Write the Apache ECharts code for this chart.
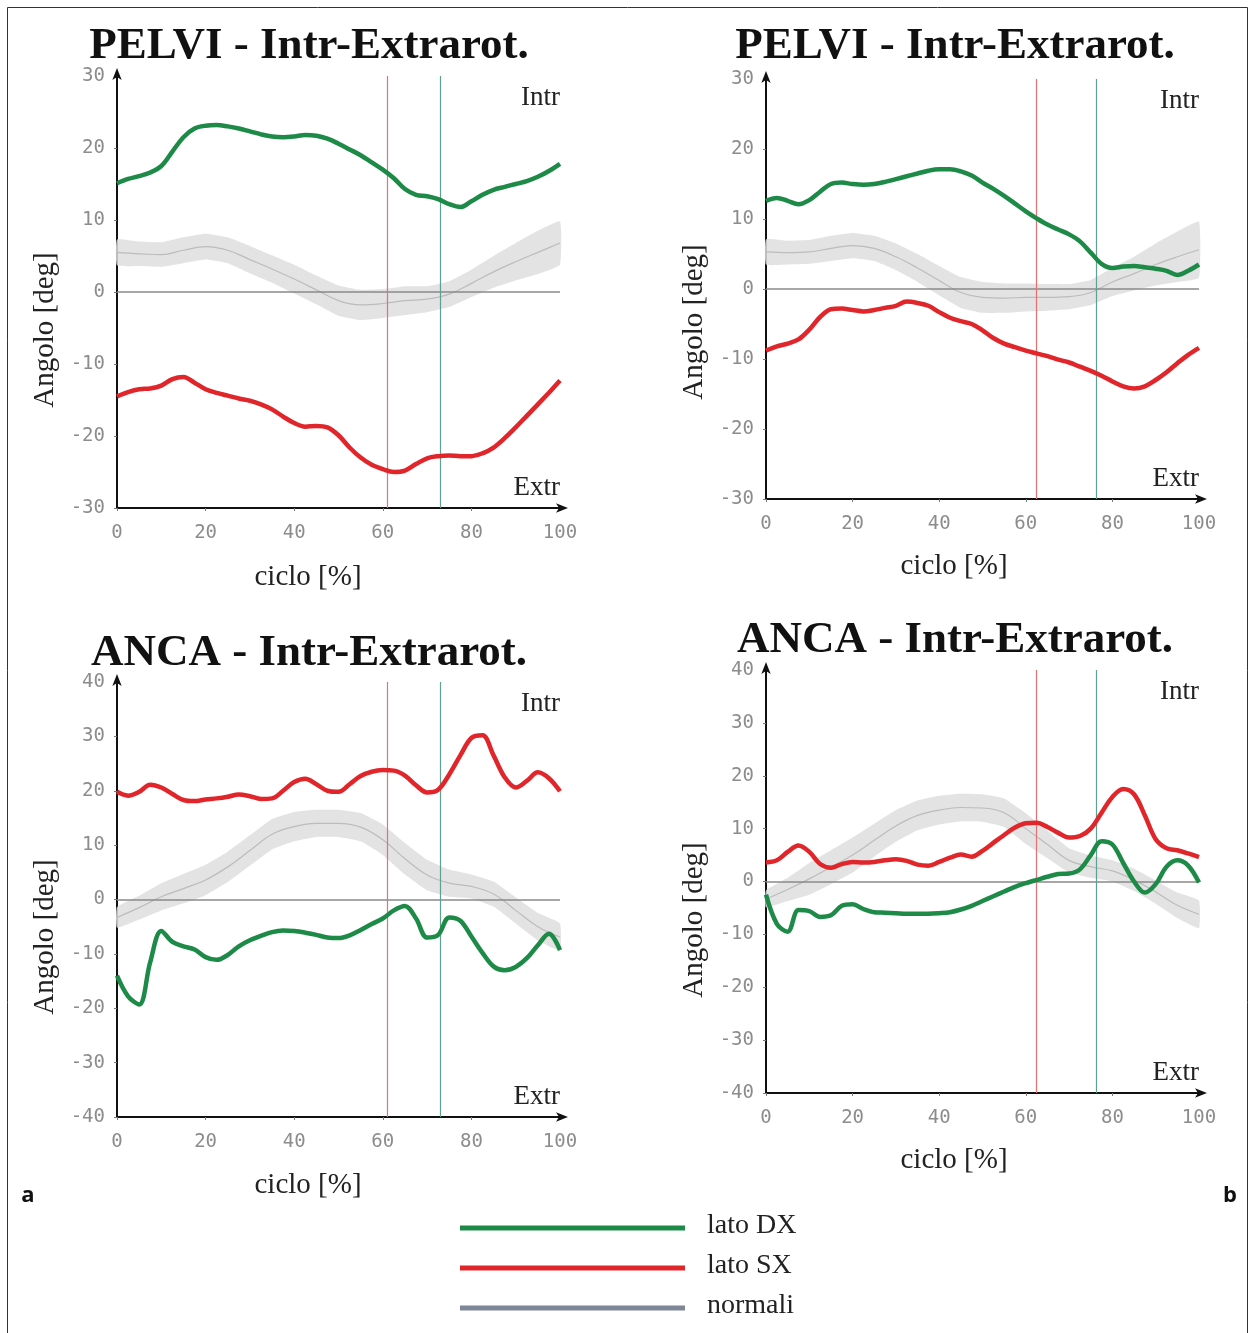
<!DOCTYPE html>
<html lang="it">
<head>
	<meta charset="UTF-8">
	<title>Intr-Extrarot.</title>
	<script src="https://cdn.jsdelivr.net/npm/echarts@6/dist/echarts.min.js"></script>
	<style>
		html, body { margin: 0; padding: 0; background: #fff; }
		#main { width: 1250px; height: 1333px; }
	</style>
</head>
<body>
<div id="main"></div>
<script>
	// ascisse: ciclo del passo in %
	var cicloX = [0,2.5,5,7.5,10,12.5,15,17.5,20,22.5,25,27.5,30,32.5,35,37.5,40,42.5,45,47.5,50,
		52.5,55,57.5,60,62.5,65,67.5,70,72.5,75,77.5,80,82.5,85,87.5,90,92.5,95,97.5,100];
	var normX = [0,5,10,15,20,25,30,35,40,45,50,55,60,65,70,75,80,85,90,95,100];

	// PELVI (a)
	var pelviA_dx = [15.1,15.7,16.1,16.6,17.5,19.5,21.5,22.7,23.1,23.2,23.0,22.7,22.3,21.9,21.6,21.5,21.6,21.8,21.7,21.3,20.6,
		19.8,19.0,18.0,17.0,15.8,14.3,13.5,13.3,12.9,12.2,11.8,12.6,13.5,14.2,14.6,15.0,15.4,16.0,16.8,17.8];
	var pelviA_sx = [-14.5,-13.9,-13.5,-13.4,-13.0,-12.1,-11.8,-12.6,-13.5,-14.0,-14.4,-14.8,-15.1,-15.6,-16.3,-17.3,-18.2,-18.7,-18.6,-18.8,-19.9,
		-21.6,-23.0,-24.0,-24.6,-25.0,-24.8,-23.9,-23.1,-22.8,-22.7,-22.8,-22.8,-22.4,-21.6,-20.3,-18.8,-17.2,-15.6,-14.0,-12.3];
	var pelviA_norm = [5.5,5.3,5.2,5.8,6.3,5.8,4.5,3.2,1.8,0.3,-1.2,-1.8,-1.6,-1.2,-1.0,-0.3,1.2,2.8,4.2,5.5,6.8];
	var pelviA_sd = [1.8,1.7,1.7,1.8,1.8,1.8,1.9,1.9,2.0,2.0,2.1,2.1,2.0,2.0,1.8,1.8,1.9,2.2,2.6,3.0,3.0];

	// PELVI (b)
	var pelviB_dx = [12.6,13.0,12.6,12.1,12.7,13.9,15.0,15.2,15.0,14.9,15.0,15.3,15.7,16.1,16.5,16.9,17.1,17.1,16.8,16.2,15.2,
		14.3,13.3,12.2,11.1,10.1,9.2,8.5,7.8,6.8,5.2,3.6,3.0,3.2,3.3,3.1,2.9,2.6,2.0,2.6,3.5];
	var pelviB_sx = [-8.8,-8.2,-7.8,-7.2,-5.8,-4.0,-2.9,-2.8,-3.0,-3.2,-3.0,-2.7,-2.4,-1.8,-2.0,-2.4,-3.3,-4.1,-4.6,-5.0,-5.9,
		-7.0,-7.8,-8.3,-8.8,-9.2,-9.6,-10.1,-10.5,-11.1,-11.7,-12.4,-13.2,-13.9,-14.2,-13.9,-13.0,-11.9,-10.6,-9.4,-8.4];
	var pelviB_norm = [5.3,5.2,5.3,5.8,6.2,5.8,4.6,3.0,1.2,-0.5,-1.2,-1.3,-1.2,-1.2,-1.1,-0.5,1.0,2.2,3.5,4.6,5.6];
	var pelviB_sd = [1.8,1.7,1.7,1.8,1.8,1.8,1.9,2.0,2.1,2.2,2.2,2.1,2.0,1.9,1.8,1.8,2.0,2.4,3.0,3.6,4.0];

	// ANCA (a)
	var ancaA_dx = [-14.0,-17.8,-19.3,-11.5,-5.8,-7.8,-8.6,-9.2,-10.6,-11.1,-10.2,-8.6,-7.5,-6.7,-6.0,-5.7,-5.8,-6.1,-6.5,-7.0,-7.1,
		-6.6,-5.6,-4.5,-3.5,-2.0,-1.2,-3.5,-7.0,-6.5,-3.3,-3.9,-6.8,-9.8,-12.3,-13.0,-12.4,-10.8,-8.4,-6.3,-9.3];
	var ancaA_sx = [19.8,19.1,19.8,21.1,20.6,19.4,18.3,18.1,18.4,18.6,18.9,19.3,19.0,18.5,18.6,20.0,21.6,22.2,21.2,20.0,19.8,
		21.2,22.7,23.5,23.8,23.7,22.8,21.0,19.7,20.2,23.0,26.5,29.7,30.2,26.5,22.5,20.6,21.8,23.4,22.3,19.9];
	var ancaA_norm = [-3.3,-1.5,0.5,2.0,3.6,6.0,9.0,12.0,13.4,14.0,14.0,13.3,11.0,7.5,4.5,3.0,2.4,1.0,-2.0,-5.0,-6.9];
	var ancaA_sd = [1.9,2.2,2.5,2.7,2.8,2.8,2.8,2.8,2.7,2.5,2.5,2.6,2.8,2.9,2.8,2.5,2.2,2.3,2.4,2.5,2.5];

	// ANCA (b)
	var ancaB_dx = [-2.5,-8.0,-9.5,-5.4,-5.6,-6.7,-6.4,-4.6,-4.3,-5.2,-5.8,-5.9,-6.0,-6.1,-6.1,-6.1,-6.0,-5.8,-5.3,-4.6,-3.7,
		-2.8,-1.9,-1.0,-0.3,0.3,0.9,1.4,1.5,2.3,5.0,7.6,7.0,3.5,0.0,-2.1,-0.5,2.8,4.0,3.0,-0.2];
	var ancaB_sx = [3.6,4.0,5.6,6.8,5.6,3.3,2.6,3.3,3.7,3.6,3.7,4.0,4.2,3.9,3.2,3.0,3.7,4.5,5.1,4.7,5.8,
		7.3,8.8,10.2,11.0,11.1,10.3,9.2,8.3,8.6,10.0,13.0,16.0,17.5,16.5,12.5,8.0,6.3,5.9,5.3,4.6];
	var ancaB_norm = [-3.3,-1.5,0.5,2.7,5.0,7.8,10.5,12.5,13.5,14.0,13.9,13.0,10.0,7.0,4.0,2.8,2.0,0.3,-2.0,-4.5,-6.2];
	var ancaB_sd = [1.6,2.2,3.0,3.2,3.3,3.1,3.0,2.8,2.7,2.6,2.6,2.7,2.9,2.6,2.3,2.1,2.0,2.1,2.2,2.4,2.6];

	// fine appoggio (rossa) e distacco (verde) in %
	var eventiA = [61, 73];
	var eventiB = [62.4, 76.2];

	var legendNames = ['lato DX', 'lato SX', 'normali'];

	var VERDE = '#1d8a47', ROSSO = '#e0262a', GRIGIO = '#7d8797';
	var SERIF = '"Liberation Serif", "DejaVu Serif", serif';
	var MONO = '"DejaVu Sans Mono", "Liberation Mono", monospace';

	var panels = [
		{ title: 'PELVI - Intr-Extrarot.', grid: {left:117, top:76, width:443, height:432}, min:-30, max:30,
			dx: pelviA_dx, sx: pelviA_sx, norm: pelviA_norm, sd: pelviA_sd, ev: eventiA,
			titleX: 309, titleY: 46, angY: 330, cicloX: 308, cicloY: 577 },
		{ title: 'PELVI - Intr-Extrarot.', grid: {left:766, top:79, width:433, height:420}, min:-30, max:30,
			dx: pelviB_dx, sx: pelviB_sx, norm: pelviB_norm, sd: pelviB_sd, ev: eventiB,
			titleX: 955, titleY: 46, angY: 322, cicloX: 954, cicloY: 566 },
		{ title: 'ANCA - Intr-Extrarot.', grid: {left:117, top:682, width:443, height:435}, min:-40, max:40,
			dx: ancaA_dx, sx: ancaA_sx, norm: ancaA_norm, sd: ancaA_sd, ev: eventiA,
			titleX: 309, titleY: 653, angY: 937, cicloX: 308, cicloY: 1185 },
		{ title: 'ANCA - Intr-Extrarot.', grid: {left:766, top:670, width:433, height:423}, min:-40, max:40,
			dx: ancaB_dx, sx: ancaB_sx, norm: ancaB_norm, sd: ancaB_sd, ev: eventiB,
			titleX: 955, titleY: 640, angY: 920, cicloX: 954, cicloY: 1160 }
	];

	function pairs(xs, ys){
		var out = [];
		for(var i=0; i<xs.length; i++){ out.push([xs[i], ys[i]]); }
		return out;
	}

	// fascia media +/- ds disegnata come un unico poligono
	function bandRenderer(p){
		return function(params, api){
			if(params.dataIndex !== 0) return;
			var pts = [];
			for(var i=0; i<normX.length; i++){ pts.push(api.coord([normX[i], p.norm[i] + p.sd[i]])); }
			for(var j=normX.length-1; j>=0; j--){ pts.push(api.coord([normX[j], p.norm[j] - p.sd[j]])); }
			return { type: 'polygon', shape: { points: pts, smooth: 0.12 }, style: { fill: '#dedede', opacity: 0.85 } };
		};
	}

	var grids = [], xAxes = [], yAxes = [], series = [], graphic = [];

	for(let g=0; g<panels.length; g++){
		let p = panels[g];
		grids.push(p.grid);
		xAxes.push({
			gridIndex: g, type: 'value', min: 0, max: 100, interval: 20,
			axisLine: { onZero: false, lineStyle: { color: '#111', width: 2 }, symbol: ['none','arrow'], symbolSize: [7,12], symbolOffset: [0,8] },
			axisTick: { show: true, length: 3, lineStyle: { color: '#777' } },
			axisLabel: { fontFamily: MONO, fontSize: 19, color: '#8c8c8c', margin: 16 },
			splitLine: { show: false }
		});
		yAxes.push({
			gridIndex: g, type: 'value', min: p.min, max: p.max, interval: 10,
			axisLine: { onZero: false, lineStyle: { color: '#111', width: 2 }, symbol: ['none','arrow'], symbolSize: [7,12], symbolOffset: [0,8] },
			axisTick: { show: true, length: 3, lineStyle: { color: '#777' } },
			axisLabel: { fontFamily: MONO, fontSize: 19, color: '#8c8c8c', margin: 12 },
			splitLine: { show: false }
		});

		series.push({ type: 'custom', xAxisIndex: g, yAxisIndex: g, data: pairs(normX, p.norm),
			renderItem: bandRenderer(p), silent: true, z: 1 });
		series.push({ type: 'line', xAxisIndex: g, yAxisIndex: g, data: pairs(normX, p.norm), smooth: 0.4,
			symbol: 'none', lineStyle: { color: '#bcbcbc', width: 1.2 }, silent: true, z: 2,
			markLine: {
				silent: true, symbol: 'none', label: { show: false }, animation: false,
				data: [
					{ yAxis: 0, lineStyle: { color: '#8a8a8a', width: 1.6, type: 'solid' } },
					{ xAxis: p.ev[0], lineStyle: { color: '#e47070', width: 1.2, type: 'solid' } },
					{ xAxis: p.ev[1], lineStyle: { color: '#5fa08e', width: 1.2, type: 'solid' } }
				]
			}
		});
		series.push({ name: legendNames[0], type: 'line', xAxisIndex: g, yAxisIndex: g, data: pairs(cicloX, p.dx), smooth: 0.35,
			symbol: 'none', lineStyle: { color: VERDE, width: 4.5 }, z: 5 });
		series.push({ name: legendNames[1], type: 'line', xAxisIndex: g, yAxisIndex: g, data: pairs(cicloX, p.sx), smooth: 0.35,
			symbol: 'none', lineStyle: { color: ROSSO, width: 4.5 }, z: 5 });

		let right = p.grid.left + p.grid.width;
		let bottom = p.grid.top + p.grid.height;
		graphic.push({ type: 'text', x: p.titleX, y: p.titleY, z: 50, style: { text: p.title, font: 'bold 45px ' + SERIF, fill: '#111', align: 'center', verticalAlign: 'middle' } });
		graphic.push({ type: 'text', x: p.grid.left - 72, y: p.angY, rotation: Math.PI / 2, z: 50,
			style: { text: 'Angolo [deg]', font: '29px ' + SERIF, fill: '#222', align: 'center', verticalAlign: 'middle' } });
		graphic.push({ type: 'text', x: p.cicloX, y: p.cicloY, z: 50, style: { text: 'ciclo [%]', font: '29px ' + SERIF, fill: '#222', align: 'center', verticalAlign: 'middle' } });
		graphic.push({ type: 'text', x: right, y: p.grid.top + 22, z: 50, style: { text: 'Intr', font: '27px ' + SERIF, fill: '#222', align: 'right', verticalAlign: 'middle' } });
		graphic.push({ type: 'text', x: right, y: bottom - 20, z: 50, style: { text: 'Extr', font: '27px ' + SERIF, fill: '#222', align: 'right', verticalAlign: 'middle' } });
	}

	// cornice, lettere e legenda
	graphic.push({ type: 'rect', shape: { x: 7.5, y: 7.5, width: 1240, height: 1340 }, style: { fill: null, stroke: '#333', lineWidth: 1 }, z: -10 });
	graphic.push({ type: 'text', x: 28, y: 1196, z: 50, style: { text: 'a', font: 'bold 22px "Open Sans", "DejaVu Sans", sans-serif', fill: '#111', align: 'center', verticalAlign: 'middle' } });
	graphic.push({ type: 'text', x: 1230, y: 1196, z: 50, style: { text: 'b', font: 'bold 22px "Open Sans", "DejaVu Sans", sans-serif', fill: '#111', align: 'center', verticalAlign: 'middle' } });
	var legendColors = [VERDE, ROSSO, GRIGIO];
	for(let i=0; i<legendNames.length; i++){
		let ly = 1228 + i * 40;
		graphic.push({ type: 'line', shape: { x1: 460, y1: ly, x2: 685, y2: ly }, style: { stroke: legendColors[i], lineWidth: 5 } });
		graphic.push({ type: 'text', x: 707, y: ly - 2, style: { text: legendNames[i], font: '28px ' + SERIF, fill: '#222', align: 'left', verticalAlign: 'middle' } });
	}

	var chart = echarts.init(document.getElementById('main'));
	chart.setOption({
		animation: false,
		backgroundColor: '#fff',
		grid: grids,
		xAxis: xAxes,
		yAxis: yAxes,
		series: series,
		graphic: graphic
	});
</script>
</body>
</html>
